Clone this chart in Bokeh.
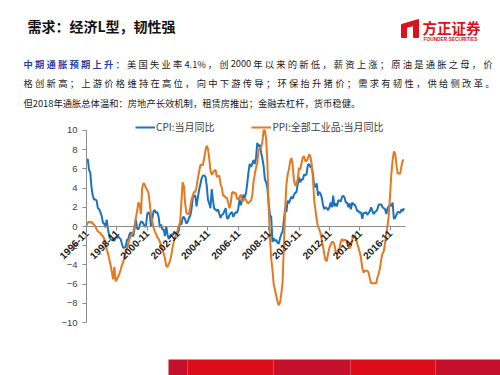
from math import pi
from bokeh.plotting import figure
from bokeh.models import (Range1d, LinearAxis, FixedTicker, Label, Legend,
                          LegendItem)
from bokeh.embed import file_html
from bokeh.resources import INLINE

# ---------------- data ----------------
tick_labels = ["1996-11", "1998-11", "2000-11", "2002-11", "2004-11", "2006-11",
               "2008-11", "2010-11", "2012-11", "2014-11", "2016-11"]
tick_step = 24  # months between labelled ticks

series_names = ["CPI:当月同比", "PPI:全部工业品:当月同比"]

# monthly values 1996-11 ... 2017-10
cpi = [
    6.9, 7.0,
    5.9, 5.6, 4.0, 3.2, 2.8, 2.8, 2.7, 1.9, 1.8, 1.5, 1.1, 0.4,
    0.3, -0.1, 0.7, -0.3, -1.0, -1.3, -1.4, -1.4, -1.5, -1.1, -1.2, -1.0,
    -1.2, -1.3, -1.8, -2.2, -2.2, -2.1, -1.4, -1.3, -0.8, -0.6, -0.9, -1.0,
    -0.2, 0.7, -0.2, -0.3, 0.1, 0.5, 0.5, 0.3, 0.0, 0.0, 1.3, 1.5,
    1.2, 0.0, 0.8, 1.6, 1.7, 1.4, 1.5, 1.0, -0.1, 0.2, -0.3, -0.3,
    -1.0, 0.0, -0.8, -1.3, -1.1, -0.8, -0.9, -0.7, -0.7, -0.8, -0.7, -0.4,
    0.4, 0.2, 0.9, 1.0, 0.7, 0.3, 0.5, 0.9, 1.1, 1.8, 3.0, 3.2,
    3.2, 2.1, 3.0, 3.8, 4.4, 5.0, 5.3, 5.3, 5.2, 4.3, 2.8, 2.4,
    1.9, 3.9, 2.7, 1.8, 1.8, 1.6, 1.8, 1.3, 0.9, 1.2, 1.3, 1.6,
    1.9, 0.9, 0.8, 1.2, 1.4, 1.5, 1.0, 1.3, 1.5, 1.4, 1.9, 2.8,
    2.2, 2.7, 3.3, 3.0, 3.4, 4.4, 5.6, 6.5, 6.2, 6.5, 6.9, 6.5,
    7.1, 8.7, 8.3, 8.5, 7.7, 7.1, 6.3, 4.9, 4.6, 4.0, 2.4, 1.2,
    1.0, -1.6, -1.2, -1.5, -1.4, -1.7, -1.8, -1.2, -0.8, -0.5, 0.6, 1.9,
    1.5, 2.7, 2.4, 2.8, 3.1, 2.9, 3.3, 3.5, 3.6, 4.4, 5.1, 4.6,
    4.9, 4.9, 5.4, 5.3, 5.5, 6.4, 6.5, 6.2, 6.1, 5.5, 4.2, 4.1,
    4.5, 3.2, 3.6, 3.4, 3.0, 2.2, 1.8, 2.0, 1.9, 1.7, 2.0, 2.5,
    2.0, 3.2, 2.1, 2.4, 2.1, 2.7, 2.7, 2.6, 3.1, 3.2, 3.0, 2.5,
    2.5, 2.0, 2.4, 1.8, 2.5, 2.3, 2.3, 2.0, 1.6, 1.6, 1.4, 1.5,
    0.8, 1.4, 1.4, 1.5, 1.2, 1.4, 1.6, 2.0, 1.6, 1.3, 1.5, 1.6,
    1.8, 2.3, 2.3, 2.3, 2.0, 1.9, 1.8, 1.3, 1.9, 2.1, 2.3, 2.1,
    2.5, 0.8, 0.9, 1.2, 1.5, 1.5, 1.4, 1.8, 1.6, 1.9,
]

ppi = [
    0.1, 0.4,
    0.5, 0.4, 0.5, 0.3, 0.2, 0.0, -0.3, -0.5, -0.6, -0.7, -0.9, -1.0,
    -1.3, -1.8, -2.4, -2.8, -3.4, -4.0, -4.7, -5.5, -4.2, -5.7, -5.5, -5.2,
    -4.9, -4.5, -4.0, -3.7, -3.2, -2.7, -2.3, -1.8, -1.3, -1.0, -0.8, -0.6,
    0.1, 0.9, 1.6, 2.5, 2.3, 1.3, 4.0, 4.5, 4.4, 4.0, 3.8, 3.5,
    2.4, 1.2, 0.5, -0.1, -0.5, -0.8, -1.1, -1.3, -1.6, -2.0, -2.4, -2.8,
    -3.3, -4.1, -4.2, -3.9, -3.6, -3.0, -2.2, -1.6, -1.1, -0.7, -0.4, 0.0,
    0.5, 2.5, 4.6, 4.2, 2.4, 1.4, 1.3, 1.3, 2.0, 2.8, 3.2, 3.6,
    3.6, 4.1, 5.0, 5.7, 6.4, 6.4, 6.4, 7.1, 7.9, 8.4, 8.1, 7.1,
    5.8, 5.4, 5.6, 5.8, 5.9, 5.2, 5.2, 5.3, 4.4, 4.0, 3.2, 3.2,
    3.0, 3.0, 2.5, 1.9, 2.4, 3.5, 3.6, 3.4, 3.5, 2.9, 2.8, 3.1,
    3.3, 2.6, 2.7, 2.9, 2.8, 2.5, 2.4, 2.6, 2.7, 3.2, 4.6, 5.4,
    6.1, 6.6, 8.0, 8.1, 8.2, 8.8, 10.0, 10.0, 9.1, 6.6, 2.0, -1.1,
    -3.3, -4.5, -6.0, -6.6, -7.2, -7.8, -8.2, -7.9, -7.0, -5.8, -2.1, 1.7,
    4.3, 5.4, 5.9, 6.8, 7.1, 6.4, 4.8, 4.3, 4.3, 5.0, 6.1, 5.9,
    6.6, 7.2, 7.3, 6.8, 6.8, 7.1, 7.5, 7.3, 6.5, 5.0, 2.7, 1.7,
    0.7, 0.0, -0.3, -0.7, -1.4, -2.1, -2.9, -3.5, -3.6, -2.8, -2.2, -1.9,
    -1.6, -1.6, -1.9, -2.6, -2.9, -2.7, -2.3, -1.6, -1.3, -1.5, -1.4, -1.4,
    -1.6, -2.0, -2.3, -2.0, -1.4, -1.1, -0.9, -1.2, -1.8, -2.2, -2.7, -3.3,
    -4.3, -4.8, -4.6, -4.6, -4.6, -4.8, -5.4, -5.9, -5.9, -5.9, -5.9, -5.9,
    -5.3, -4.9, -4.3, -3.4, -2.8, -2.6, -1.7, -0.8, 0.1, 1.2, 3.3, 5.5,
    6.9, 7.8, 7.6, 6.4, 5.5, 5.5, 5.5, 6.3, 6.9, 6.9,
]

y_ticks = [-10, -8, -6, -4, -2, 0, 2, 4, 6, 8, 10]

# ---------------- slide texts ----------------
title_text = "需求：经济L型，韧性强"
logo_cn = "方正证券"
logo_en = "FOUNDER SECURITIES"
para1_text = "中期通胀预期上升：美国失业率4.1%，创2000年以来的新低，薪资上涨；原油是通胀之母，价"
para1_heading_len = 8
para2_text = "格创新高；上游价格维持在高位，向中下游传导；环保抬升猪价；需求有韧性，供给侧改革。"
para3_text = "但2018年通胀总体温和：房地产长效机制，租赁房推出；金融去杠杆，货币稳健。"

# ---------------- layout / style ----------------
W, H = 500, 375
CJK = "Noto Sans CJK SC"
BLUE = "#1A73C0"
ORANGE = "#E8771E"
RED = "#D9121E"
HEAD_BLUE = "#1F3FA8"
TXT = "#1a1a1a"
FS = 9.3

X0, PX_PER_MONTH = 86, 1.265
Y_ZERO, PX_PER_UNIT = 226, 9.615

p = figure(width=W, height=H, x_range=Range1d(0, W), y_range=Range1d(H, 0),
           x_axis_type=None, y_axis_type=None, output_backend="svg",
           toolbar_location=None, min_border=0, outline_line_color=None,
           background_fill_color="white", border_fill_color="white")
p.xgrid.visible = False
p.ygrid.visible = False

p.extra_x_ranges = {"t": Range1d(-X0 / PX_PER_MONTH, (W - X0) / PX_PER_MONTH)}
p.extra_y_ranges = {"v": Range1d(-(H - Y_ZERO) / PX_PER_UNIT, Y_ZERO / PX_PER_UNIT)}

xs = list(range(len(cpi)))
r_cpi = p.line(xs, cpi, x_range_name="t", y_range_name="v",
               line_color=BLUE, line_width=2)
r_ppi = p.line(xs, ppi, x_range_name="t", y_range_name="v",
               line_color=ORANGE, line_width=2)

tick_pos = [i * tick_step for i in range(len(tick_labels))]
xax = LinearAxis(x_range_name="t", y_range_name="v", fixed_location=0,
                 bounds=(0, len(cpi)), ticker=FixedTicker(ticks=tick_pos),
                 major_label_overrides={t: l for t, l in zip(tick_pos, tick_labels)},
                 major_label_orientation=pi / 4)
yax = LinearAxis(x_range_name="t", y_range_name="v", fixed_location=0,
                 bounds=(-10, 10), ticker=FixedTicker(ticks=y_ticks))
for ax in (xax, yax):
    ax.axis_line_color = "#8C8C8C"
    ax.axis_line_width = 1
    ax.major_tick_line_color = "#8C8C8C"
    ax.major_tick_in = 0
    ax.major_tick_out = 4
    ax.minor_tick_line_color = None
    ax.major_label_text_font = "Liberation Sans"
xax.major_label_text_font_size = "10px"
xax.major_label_text_font_style = "bold"
xax.major_label_text_color = "#1a1a1a"
xax.major_label_standoff = 1
yax.major_label_text_font_size = "9.5px"
yax.major_label_text_color = "#404040"
yax.major_label_standoff = 5
p.add_layout(xax, "below")
p.add_layout(yax, "left")

legend = Legend(items=[LegendItem(label=series_names[0], renderers=[r_cpi]),
                       LegendItem(label=series_names[1], renderers=[r_ppi])],
                orientation="horizontal", location=(135, H - 134),
                glyph_width=20, glyph_height=10, label_height=10,
                label_standoff=1, spacing=37, padding=0, margin=0,
                border_line_color=None, background_fill_alpha=0,
                label_text_font=CJK, label_text_font_size="10px",
                label_text_color="#404040")
p.add_layout(legend)

# ---------------- slide decorations ----------------
p.add_layout(Label(x=27, y=25, text=title_text, text_font=CJK,
                   text_font_style="bold", text_font_size="14px",
                   text_baseline="middle", text_color="#111111"))

p.patch([401, 418, 418, 413, 413, 406, 406, 401], [24, 19, 37, 37, 25, 27, 37, 37],
        fill_color=RED, line_color=RED)
p.add_layout(Label(x=422, y=27, text=logo_cn, text_font=CJK, text_font_style="bold",
                   text_font_size="14.5px", text_baseline="middle", text_color=RED))
p.add_layout(Label(x=423, y=38.5, text=logo_en, text_font="Liberation Sans",
                   text_font_style="bold", text_font_size="4.8px",
                   text_baseline="middle", text_color=RED))


def split_units(text):
    """split a line into spacing units: each CJK char alone, ASCII runs together"""
    units, run = [], ""
    for ch in text:
        if ch.isascii():
            run += ch
        else:
            if run:
                units.append(run)
                run = ""
            units.append(ch)
    if run:
        units.append(run)
    return units


def unit_width(u):
    if not u.isascii():
        return FS
    return sum({".": 0.28, "%": 0.88}.get(ch, 0.55) for ch in u) * FS


def justified(text, left, right):
    """distribute the line over [left, right] the way a justified CJK paragraph does"""
    units = split_units(text)
    natural = sum(unit_width(u) for u in units)
    extra = (right - left - natural) / (len(units) - 1)
    out, x, pos = [], left, 0
    for u in units:
        out.append((x, u, pos))
        x += unit_width(u) + extra
        pos += len(u)
    return out


for xx, u, pos in justified(para1_text, 23, 492):
    head = pos < para1_heading_len
    p.add_layout(Label(x=xx, y=63, text=u, text_font=CJK, text_font_size=f"{FS}px",
                       text_font_style="bold" if head else "normal",
                       text_color=HEAD_BLUE if head else TXT, text_baseline="middle"))
for xx, u, pos in justified(para2_text, 23, 494):
    p.add_layout(Label(x=xx, y=82, text=u, text_font=CJK, text_font_size=f"{FS}px",
                       text_color=TXT, text_baseline="middle"))
p.add_layout(Label(x=23, y=102, text=para3_text, text_font=CJK,
                   text_font_size=f"{FS}px", text_color=TXT, text_baseline="middle"))

# bottom red band
band_edges = [168, 187, 273, 350, 435, 500]
band_cols = ["#C4102A", "#DC0C1A", "#C4102A", "#DC0C1A", "#C4102A"]
p.quad(left=band_edges[:-1], right=band_edges[1:], top=359, bottom=375,
       fill_color=band_cols, line_color=None)

open("out.html", "w").write(file_html(p, INLINE))
